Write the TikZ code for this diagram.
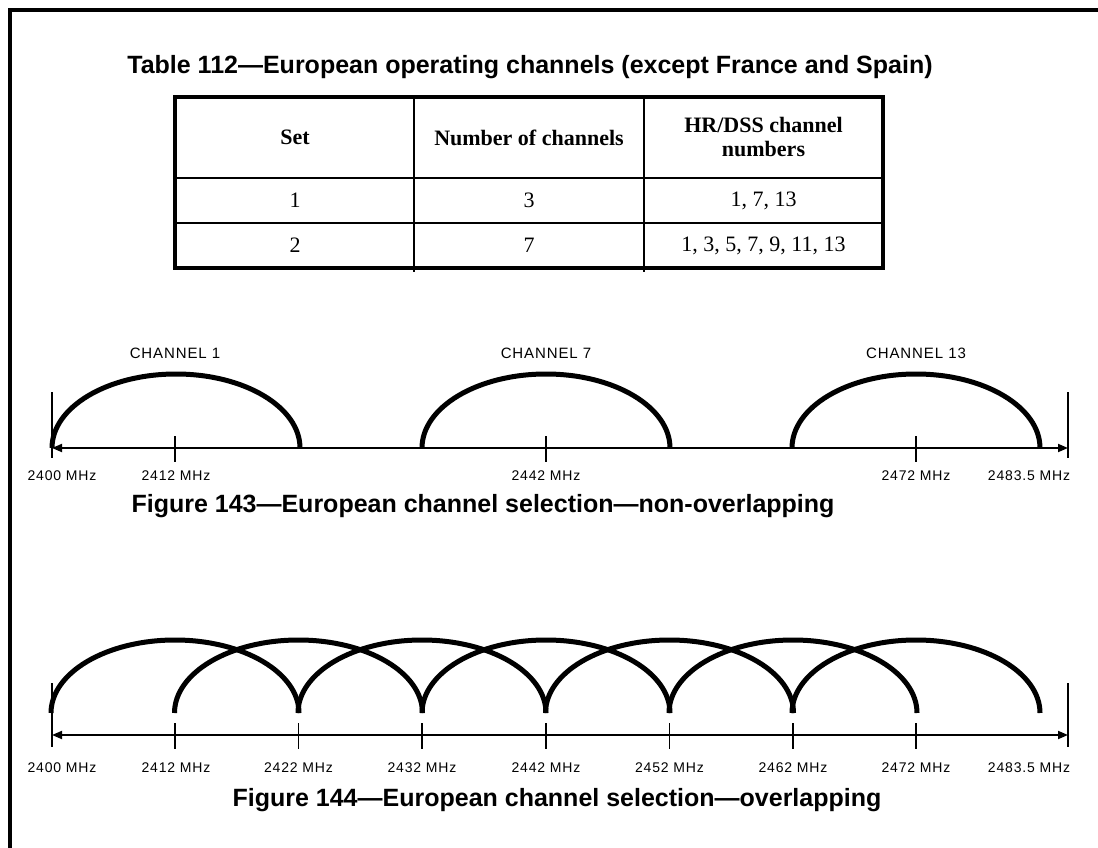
\documentclass[tikz,border=0pt]{standalone}
\usepackage{fontspec}
\setmainfont{Liberation Serif}
\newfontfamily\hv{Liberation Sans}
\newfontfamily\hvsp[LetterSpace=6]{Liberation Sans}
\usetikzlibrary{arrows.meta}
\begin{document}
\begin{tikzpicture}[x=1pt,y=-1pt,
  frameline/.style={line width=4pt},
  tbl/.style={line width=3.5pt},
  tblin/.style={line width=1.4pt},
  lobe/.style={line width=5pt},
  axisline/.style={line width=1.8pt,{Triangle[length=10pt,width=8pt]}-{Triangle[length=10pt,width=8pt]}},
  bound/.style={line width=1.5pt},
  tickline/.style={line width=1.5pt},
  freq/.style={font=\hvsp\fontsize{14}{16}\selectfont, inner sep=0pt},
  chlabel/.style={font=\hvsp\fontsize{15}{17}\selectfont, inner sep=0pt},
  heading/.style={font=\hv\bfseries\fontsize{25}{30}\selectfont, inner sep=0pt},
  cell/.style={font=\fontsize{22}{26}\selectfont, inner sep=0pt, align=center},
  hcell/.style={font=\bfseries\fontsize{22}{24}\selectfont, inner sep=0pt, align=center},
]
\useasboundingbox (0,0) rectangle (1098,848);
\fill[white] (0,0) rectangle (1098,848);
% frame
\coordinate (fBL) at (9.8,848);
\coordinate (fTL) at (9.8,9.8);
\coordinate (fTR) at (1098,9.8);
\draw[frameline] (fBL) -- (fTL) -- (fTR);
% title
\node[heading] (title) at (530,67) {Table 112—European operating channels (except France and Spain)};
% table
\draw[tblin] (414,97) -- (414,272);
\draw[tblin] (644,97) -- (644,272);
\draw[tblin] (175,178) -- (883,178);
\draw[tblin] (175,223) -- (883,223);
\draw[tbl] (175,97) rectangle (883,268);
\node[hcell] (h1) at (295,137.5) {Set};
\node[hcell] (h2) at (529,137.5) {Number of channels};
\node[hcell] (h3) at (763.5,137.5) {HR/DSS channel\\numbers};
\node[cell] (a1) at (295,200.5) {1};
\node[cell] (a2) at (529,200.5) {3};
\node[cell] (a3) at (763.5,200.5) {1, 7, 13};
\node[cell] (b1) at (295,245.5) {2};
\node[cell] (b2) at (529,245.5) {7};
\node[cell] (b3) at (763.5,245.5) {1, 3, 5, 7, 9, 11, 13};
% Figure 143
\coordinate (pL) at (52,448);
\coordinate (pR) at (1068,448);
\draw[bound] (52,392) -- (52,458);
\draw[bound] (1068,392) -- (1068,458);
\draw[axisline] (pL) -- (pR);
\foreach \x in {175,546,916} \draw[tickline] (\x,436) -- (\x,462);
\foreach \x in {52,422,792} \draw[lobe] (\x,448) arc[start angle=180,end angle=360,x radius=124,y radius=74];
\node[chlabel] (c1) at (175,353) {CHANNEL 1};
\node[chlabel] (c7) at (546,353) {CHANNEL 7};
\node[chlabel] (c13) at (916,353) {CHANNEL 13};
\node[freq] (p2400) at (62,476) {2400 MHz};
\node[freq] (p2412) at (176,476) {2412 MHz};
\node[freq] (p2442) at (546,476) {2442 MHz};
\node[freq] (p2472) at (916,476) {2472 MHz};
\node[freq] (p2483) at (1029,476) {2483.5 MHz};
\node[heading] (cap143) at (483,506) {Figure 143—European channel selection—non-overlapping};
% Figure 144
\coordinate (qL) at (52,735);
\coordinate (qR) at (1068,735);
\draw[bound] (52,683) -- (52,747);
\draw[bound] (1068,683) -- (1068,747);
\draw[axisline] (qL) -- (qR);
\foreach \x in {175,298.5,422,546,669.5,793,916} \draw[tickline] (\x,723) -- (\x,749);
\foreach \x in {51,174.5,298,422,545.5,669,792} \draw[lobe] (\x,713) arc[start angle=180,end angle=360,x radius=124,y radius=73];
\node[freq] (q2400) at (62,768) {2400 MHz};
\node[freq] (q2412) at (176,768) {2412 MHz};
\node[freq] (q2422) at (298.5,768) {2422 MHz};
\node[freq] (q2432) at (422,768) {2432 MHz};
\node[freq] (q2442) at (546,768) {2442 MHz};
\node[freq] (q2452) at (669.5,768) {2452 MHz};
\node[freq] (q2462) at (793,768) {2462 MHz};
\node[freq] (q2472) at (916,768) {2472 MHz};
\node[freq] (q2483) at (1029,768) {2483.5 MHz};
\node[heading] (cap144) at (557,800) {Figure 144—European channel selection—overlapping};
\end{tikzpicture}
\end{document}
